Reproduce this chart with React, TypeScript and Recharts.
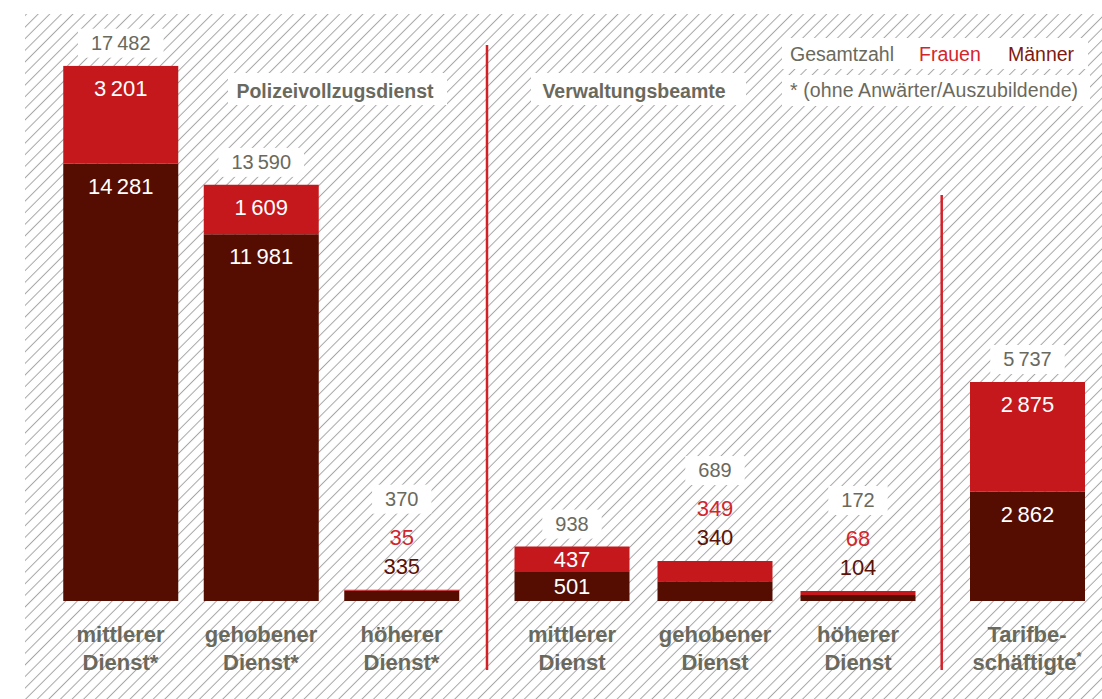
import React from "react";
import { BarChart, Bar, XAxis, YAxis, LabelList } from "recharts";

// ---------- data ----------
const policeCategories = ["mittlerer Dienst*", "gehobener Dienst*", "höherer Dienst*"];
const policeWomen = [3201, 1609, 35];
const policeMen = [14281, 11981, 335];
const policeTotal = [17482, 13590, 370];

const adminCategories = ["mittlerer Dienst", "gehobener Dienst", "höherer Dienst"];
const adminWomen = [437, 349, 68];
const adminMen = [501, 340, 104];
const adminTotal = [938, 689, 172];

const tariffCategories = ["Tarifbe- schäftigte*"];
const tariffWomen = [2875];
const tariffMen = [2862];
const tariffTotal = [5737];

const sectionTitles = ["Polizeivollzugsdienst", "Verwaltungsbeamte"];
const legendLabels = ["Gesamtzahl", "Frauen", "Männer"];
const footnote = "* (ohne Anwärter/Auszubildende)";

// ---------- styling ----------
const W = 1102;
const H = 699;
const FONT = "'Liberation Sans', Arial, Helvetica, sans-serif";
const GRAY = "#6a695d";
const WOMEN = "#c4181c";
const MEN = "#540d00";
const WOMEN_TEXT = "#d3262c";
const MEN_TEXT = "#5a1208";
const MEN_LEGEND = "#7e1910";
const SEP = "#d42027";

type Row = { name: string; women: number; men: number; total: number };

const build = (cats: string[], women: number[], men: number[], total: number[]): Row[] =>
  cats.map((name, i) => ({ name, women: women[i], men: men[i], total: total[i] }));

const policeData = build(policeCategories, policeWomen, policeMen, policeTotal);
const adminData = build(adminCategories, adminWomen, adminMen, adminTotal);
const tariffData = build(tariffCategories, tariffWomen, tariffMen, tariffTotal);

const fmt = (n: number) => String(n).replace(/\B(?=(\d{3})+(?!\d))/g, "\u2009");

const textW = (s: string, fs: number) => {
  let w = 0;
  for (const ch of s) w += ch === "\u2009" ? 0.2 : 0.556;
  return w * fs;
};

const Num = ({ cx, cy, text, fs, fill }: any) => (
  <text x={cx} y={cy + 0.36 * fs} textAnchor="middle" fontSize={fs} fill={fill} fontFamily={FONT}>
    {text}
  </text>
);

const makeLabelContent = (data: Row[]) => (props: any) => {
  const vb = props.viewBox && props.viewBox.width != null ? props.viewBox : props;
  const x = Number(vb.x);
  const y = Number(vb.y);
  const w = Number(vb.width);
  const h = Number(vb.height);
  const row = data[props.index];
  if (!row || !isFinite(x)) return null;
  const cx = x + w / 2;
  const ratio = row.women > 0 ? h / row.women : 0;
  const hm = row.men * ratio;
  const menTop = y + h;
  const redFits = h >= 24;
  const darkFits = hm >= 24;
  const out: any[] = [];
  let off = 0;
  if (redFits) {
    out.push(<Num key="r" cx={cx} cy={y + Math.min(22, h / 2)} text={fmt(row.women)} fs={22} fill="#ffffff" />);
  }
  if (darkFits) {
    out.push(<Num key="m" cx={cx} cy={menTop + Math.min(22, hm / 2)} text={fmt(row.men)} fs={22} fill="#ffffff" />);
  } else {
    off += 24;
    out.push(<Num key="m" cx={cx} cy={y - off} text={fmt(row.men)} fs={22} fill={MEN_TEXT} />);
  }
  if (!redFits) {
    off += 29;
    out.push(<Num key="r" cx={cx} cy={y - off} text={fmt(row.women)} fs={22} fill={WOMEN_TEXT} />);
  }
  const tcy = off === 0 ? y - 23 : y - off - 38;
  const tt = fmt(row.total);
  const bw = textW(tt, 20) + 26;
  out.push(<rect key="tb" x={cx - bw / 2} y={tcy - 14} width={bw} height={29} fill="#ffffff" />);
  out.push(<Num key="t" cx={cx} cy={tcy} text={tt} fs={20} fill={GRAY} />);
  return <g>{out}</g>;
};

const CategoryTick = (props: any) => {
  const { x, y, payload, sup } = props;
  const lines = String(payload.value).split(" ");
  return (
    <g>
      {lines.map((l, i) => {
        const by = y + 41 + i * 28;
        const isSup = sup && l.endsWith("*");
        return (
          <text key={i} x={x} y={by} textAnchor="middle" fontSize={22} fontWeight="bold" fill={GRAY} fontFamily={FONT}>
            {isSup ? (
              <>
                <tspan>{l.slice(0, -1)}</tspan>
                <tspan fontSize={13} dy={-9}>*</tspan>
              </>
            ) : (
              l
            )}
          </text>
        );
      })}
    </g>
  );
};

const Section = ({ data, domainMax, left, right, sup }: any) => (
  <div style={{ position: "absolute", left: 0, top: 0, width: W, height: H }}>
    <BarChart width={W} height={H} data={data} margin={{ top: 65.7, bottom: 38, left, right }} barSize={115}>
      <XAxis
        dataKey="name"
        axisLine={false}
        tickLine={false}
        tickSize={0}
        tickMargin={0}
        height={60}
        interval={0}
        tick={<CategoryTick sup={sup} />}
      />
      <YAxis hide width={0} type="number" domain={[0, domainMax]} allowDataOverflow />
      <Bar dataKey="men" stackId="s" fill={MEN} isAnimationActive={false} />
      <Bar dataKey="women" stackId="s" fill={WOMEN} isAnimationActive={false}>
        <LabelList dataKey="women" content={makeLabelContent(data)} />
      </Bar>
    </BarChart>
  </div>
);

const Background = () => (
  <svg width={W} height={H} style={{ position: "absolute", left: 0, top: 0 }}>
    <defs>
      <pattern id="hatch" patternUnits="userSpaceOnUse" width={8.2} height={8.2} patternTransform="rotate(45)">
        <line x1={4.1} y1={0} x2={4.1} y2={8.2} stroke="#a6a6a6" strokeWidth={1} />
      </pattern>
    </defs>
    <rect x={0} y={0} width={W} height={H} fill="#ffffff" />
    <rect x={25} y={14} width={W - 25} height={H - 14} fill="url(#hatch)" />
    {/* section titles */}
    <rect x={228} y={73} width={219} height={32} fill="#ffffff" />
    <text x={335} y={98} textAnchor="middle" fontSize={19.5} fontWeight="bold" fill={GRAY} fontFamily={FONT}>
      {sectionTitles[0]}
    </text>
    <rect x={531} y={73} width={215} height={32} fill="#ffffff" />
    <text x={634} y={98} textAnchor="middle" fontSize={19.5} fontWeight="bold" fill={GRAY} fontFamily={FONT}>
      {sectionTitles[1]}
    </text>
    {/* legend */}
    <rect x={782} y={38} width={306} height={31} fill="#ffffff" />
    <rect x={782} y={75} width={308} height={31} fill="#ffffff" />
    <text y={61} fontSize={19.5} fontFamily={FONT}>
      <tspan x={790} fill={GRAY}>{legendLabels[0]}</tspan>
      <tspan x={919} fill={WOMEN_TEXT}>{legendLabels[1]}</tspan>
      <tspan x={1008} fill={MEN_LEGEND}>{legendLabels[2]}</tspan>
    </text>
    <text x={790} y={97} fontSize={19.5} letterSpacing={0.1} fill={GRAY} fontFamily={FONT}>
      {footnote}
    </text>
    {/* separators */}
    <line x1={487} y1={45} x2={487} y2={670} stroke={SEP} strokeWidth={2.5} />
    <line x1={941.7} y1={195} x2={941.7} y2={670} stroke={SEP} strokeWidth={2.5} />
  </svg>
);

export default function App() {
  return (
    <div style={{ position: "absolute", left: 0, top: 0, width: W, height: H, overflow: "hidden", fontFamily: FONT }}>
      <Background />
      <Section data={policeData} domainMax={17482} left={50.25} right={630.25} />
      <Section data={adminData} domainMax={9230} left={500.5} right={172.5} />
      <Section data={tariffData} domainMax={14024} left={967} right={15} sup />
    </div>
  );
}
